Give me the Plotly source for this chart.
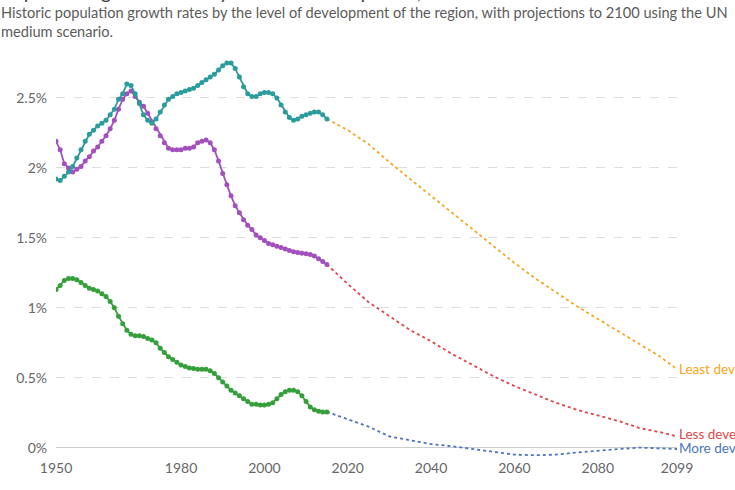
import plotly.graph_objects as go

# ---- data -------------------------------------------------------------
hist_years = list(range(1950, 2016))

least_dev_hist = [
    1.92, 1.91, 1.94, 1.97, 2.01, 2.07, 2.13, 2.19, 2.24, 2.27,
    2.30, 2.32, 2.34, 2.38, 2.42, 2.49, 2.53, 2.60, 2.59, 2.53,
    2.46, 2.38, 2.34, 2.32, 2.35, 2.40, 2.45, 2.49, 2.51, 2.53,
    2.54, 2.55, 2.56, 2.57, 2.59, 2.61, 2.63, 2.65, 2.67, 2.70,
    2.73, 2.75, 2.75, 2.71, 2.65, 2.58, 2.53, 2.51, 2.51, 2.53,
    2.54, 2.54, 2.53, 2.50, 2.45, 2.40, 2.36, 2.34, 2.35, 2.37,
    2.38, 2.39, 2.40, 2.40, 2.38, 2.35,
]

less_dev_hist = [
    2.19, 2.13, 2.03, 2.00, 1.97, 1.99, 2.01, 2.05, 2.08, 2.12,
    2.15, 2.19, 2.23, 2.28, 2.34, 2.42, 2.49, 2.53, 2.55, 2.51,
    2.47, 2.44, 2.39, 2.33, 2.28, 2.23, 2.18, 2.14, 2.13, 2.13,
    2.13, 2.14, 2.14, 2.15, 2.18, 2.19, 2.20, 2.18, 2.13, 2.05,
    1.96, 1.88, 1.80, 1.73, 1.68, 1.63, 1.59, 1.56, 1.52, 1.50,
    1.48, 1.46, 1.45, 1.44, 1.43, 1.42, 1.41, 1.40, 1.395, 1.39,
    1.386, 1.38, 1.37, 1.35, 1.33, 1.31,
]

more_dev_hist = [
    1.13, 1.16, 1.195, 1.21, 1.21, 1.20, 1.18, 1.16, 1.14, 1.13,
    1.12, 1.10, 1.08, 1.045, 1.00, 0.94, 0.886, 0.84, 0.81, 0.80,
    0.80, 0.795, 0.78, 0.77, 0.75, 0.71, 0.68, 0.65, 0.63, 0.61,
    0.59, 0.58, 0.57, 0.565, 0.56, 0.56, 0.56, 0.55, 0.53, 0.50,
    0.47, 0.44, 0.41, 0.39, 0.37, 0.35, 0.33, 0.31, 0.31, 0.305,
    0.305, 0.31, 0.32, 0.35, 0.38, 0.40, 0.41, 0.41, 0.40, 0.37,
    0.33, 0.29, 0.27, 0.26, 0.255, 0.255,
]

proj_years = [2015, 2020, 2025, 2030, 2035, 2040, 2045, 2050, 2055,
              2060, 2065, 2070, 2075, 2080, 2085, 2090, 2095, 2099]

least_dev_proj = [2.35, 2.27, 2.17, 2.04, 1.92, 1.80, 1.68, 1.56, 1.44,
                  1.32, 1.21, 1.11, 1.01, 0.92, 0.83, 0.74, 0.65, 0.56]
less_dev_proj = [1.31, 1.17, 1.04, 0.94, 0.84, 0.76, 0.67, 0.59, 0.51,
                 0.44, 0.38, 0.32, 0.27, 0.23, 0.19, 0.14, 0.11, 0.08]
more_dev_proj = [0.255, 0.20, 0.15, 0.08, 0.05, 0.025, 0.01, -0.01, -0.035,
                 -0.05, -0.055, -0.05, -0.035, -0.02, -0.01, 0.0, -0.005, -0.01]

x_tick_vals = [1950, 1980, 2000, 2020, 2040, 2060, 2080, 2099]
y_tick_vals = [0, 0.5, 1, 1.5, 2, 2.5]
y_tick_text = ["0%", "0.5%", "1%", "1.5%", "2%", "2.5%"]

title_text = "Population growth rate by level of development, 1950 to 2100"
subtitle_text = ("Historic population growth rates by the level of development of the region, "
                 "with projections to 2100 using the UN<br>medium scenario.")

labels = ["Least developed regions", "Less developed regions", "More developed regions"]
label_y = [0.565, 0.10, 0.0]

# ---- styles -----------------------------------------------------------
C_TEAL = "#2b9c9c"
C_PURPLE = "#a34fbd"
C_GREEN = "#35a03a"
C_ORANGE = "#f5a623"
C_RED = "#e0454b"
C_BLUE = "#4b73c2"
FONT = "Lato, 'Open Sans', sans-serif"

fig = go.Figure()

# projections (dotted)
for ys, col in [(least_dev_proj, C_ORANGE), (less_dev_proj, C_RED), (more_dev_proj, C_BLUE)]:
    fig.add_trace(go.Scatter(
        x=proj_years, y=ys, mode="lines",
        line=dict(color=col, width=1.8, dash="dot"),
        hoverinfo="skip", showlegend=False,
    ))

# historic (solid with markers)
for ys, col in [(more_dev_hist, C_GREEN), (less_dev_hist, C_PURPLE), (least_dev_hist, C_TEAL)]:
    fig.add_trace(go.Scatter(
        x=hist_years, y=ys, mode="lines+markers",
        line=dict(color=col, width=1.8),
        marker=dict(color=col, size=5),
        showlegend=False,
    ))

# end labels
for txt, yv, col in zip(labels, label_y, [C_ORANGE, C_RED, C_BLUE]):
    fig.add_annotation(
        x=2099, y=yv, xref="x", yref="y", text=txt, showarrow=False,
        xanchor="left", yanchor="middle", xshift=0,
        font=dict(family=FONT, size=13.5, color=col),
    )

# plot geometry
ML, MR, MT = 56, 58, 50
PW = 735 - ML - MR
Y0, Y1 = -0.06, 2.843
PH = (Y1 - Y0) * 140.0
MB = 490 - MT - PH

# subtitle
fig.add_annotation(
    xref="paper", yref="paper", x=(-1 - ML) / PW, y=1 + (MT - 2) / PH,
    xanchor="left", yanchor="top", align="left", showarrow=False,
    text=subtitle_text,
    font=dict(family=FONT, size=14.6, color="#5b5b5b"),
)
# title (partly above the visible page, as in the reference)
fig.add_annotation(
    xref="paper", yref="paper", x=(-1 - ML) / PW, y=1 + (MT - 5) / PH,
    xanchor="left", yanchor="bottom", align="left", showarrow=False,
    text=title_text,
    font=dict(family=FONT, size=20, color="#444444"),
)

fig.update_layout(
    width=735, height=490,
    margin=dict(l=ML, r=MR, t=MT, b=MB, pad=0),
    paper_bgcolor="white", plot_bgcolor="white",
    font=dict(family=FONT, size=14, color="#666666"),
    showlegend=False,
    xaxis=dict(
        range=[1950, 2099], tickvals=x_tick_vals, showgrid=False,
        zeroline=False, showline=False, ticks="",
        tickfont=dict(family=FONT, size=14, color="#666666"),
        ticklabelstandoff=2,
    ),
    yaxis=dict(
        range=[Y0, Y1], tickvals=y_tick_vals, ticktext=y_tick_text,
        showgrid=True, gridcolor="#dddddd", griddash="dash", gridwidth=1,
        zeroline=True, zerolinecolor="#cccccc", zerolinewidth=1.2,
        showline=False, ticks="",
        tickfont=dict(family=FONT, size=14, color="#666666"),
        ticklabelstandoff=8,
    ),
)

fig.write_html("out.html",
               config={"displayModeBar": False},
               post_script="document.body.style.margin='0';document.body.style.overflow='hidden';")
